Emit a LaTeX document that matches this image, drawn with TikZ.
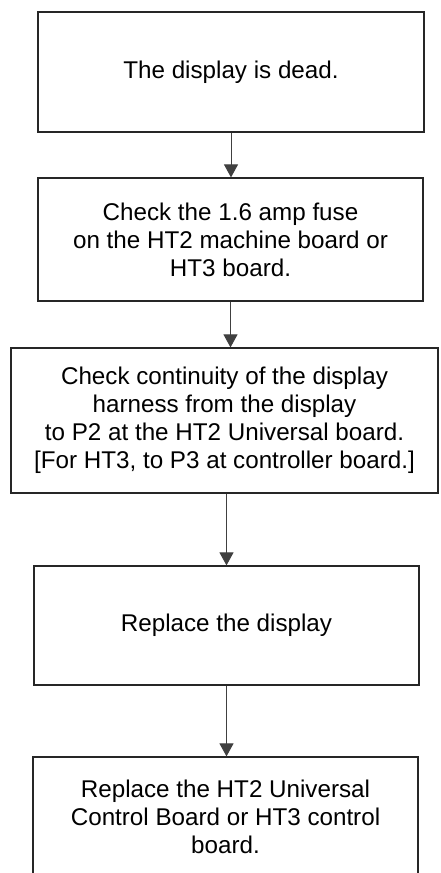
\documentclass[tikz,border=0pt]{standalone}
\usepackage{fontspec}
\setmainfont{Liberation Sans}
\usetikzlibrary{arrows.meta}
\begin{document}
\begin{tikzpicture}[x=1pt,y=-1pt,
  stepbox/.style={draw=black!85, line width=1.2pt, align=center, inner sep=0pt,
    font=\fontsize{24.2}{28}\selectfont, text=black},
  flow/.style={draw=black!75, line width=1pt, -{Triangle[width=14pt,length=13pt]}}]
\useasboundingbox (0,0) rectangle (441,873);
\clip (0,0) rectangle (441,873);
\node[stepbox, minimum width=386pt, minimum height=120pt] (b1) at (231,72) {The display is dead.};
\node[stepbox, minimum width=385pt, minimum height=123pt] (b2) at (230.5,239.5) {Check the 1.6 amp fuse\\on the HT2 machine board or\\HT3 board.};
\node[stepbox, minimum width=427pt, minimum height=145pt] (b3) at (224.5,420.5) {Check continuity of the display\\harness from the display\\to P2 at the HT2 Universal board.\\{[}For HT3, to P3 at controller board.{]}};
\node[stepbox, minimum width=385pt, minimum height=119pt] (b4) at (226.5,625.5) {Replace the display};
\node[stepbox, minimum width=385pt, minimum height=120pt] (b5) at (225.5,817) {Replace the HT2 Universal\\Control Board or HT3 control\\board.};
\draw[flow] (b1.south) -- (b1.south |- b2.north);
\draw[flow] (b2.south) -- (b2.south |- b3.north);
\draw[flow] ([xshift=2pt]b3.south) -- ([xshift=2pt]b3.south |- b4.north);
\draw[flow] (b4.south) -- (b4.south |- b5.north);
\end{tikzpicture}
\end{document}
